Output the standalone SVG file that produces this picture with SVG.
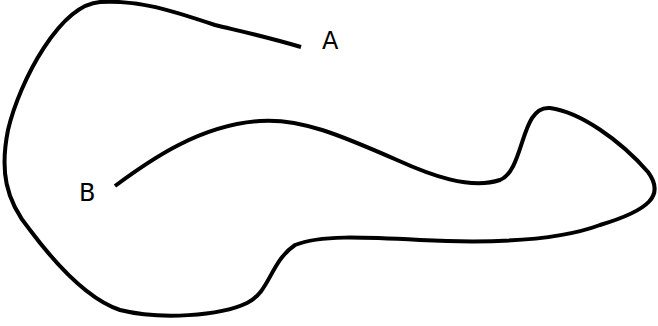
<svg xmlns="http://www.w3.org/2000/svg" width="658" height="326" viewBox="0 0 658 326">
<style>
.curve{fill:none;stroke:#000;stroke-width:4}
.lbl{font-family:"DejaVu Sans",sans-serif;font-size:24px;fill:#000}
</style>
<rect width="658" height="326" fill="#fff"/>
<g id="connectors">
<path class="curve" d="M301,47 C260,35 235,30 215,25 C170,10 140,0 100,2 C60,5 20,80 8,130 C0,170 5,200 30,230 C60,270 90,300 120,310 C160,320 220,316 247,303 C270,292 270,262 295,245 C320,235 360,237 420,240 C500,244 560,240 600,225 C650,210 665,195 648,172 C620,140 580,112 550,108 C520,105 525,170 500,180 C470,190 430,175 397,160 C340,135 300,118 260,121 C200,125 150,160 115,186"/>
</g>
<g id="A"><text class="lbl" x="322" y="49">A</text></g>
<g id="B"><text class="lbl" x="79" y="201">B</text></g>
</svg>
